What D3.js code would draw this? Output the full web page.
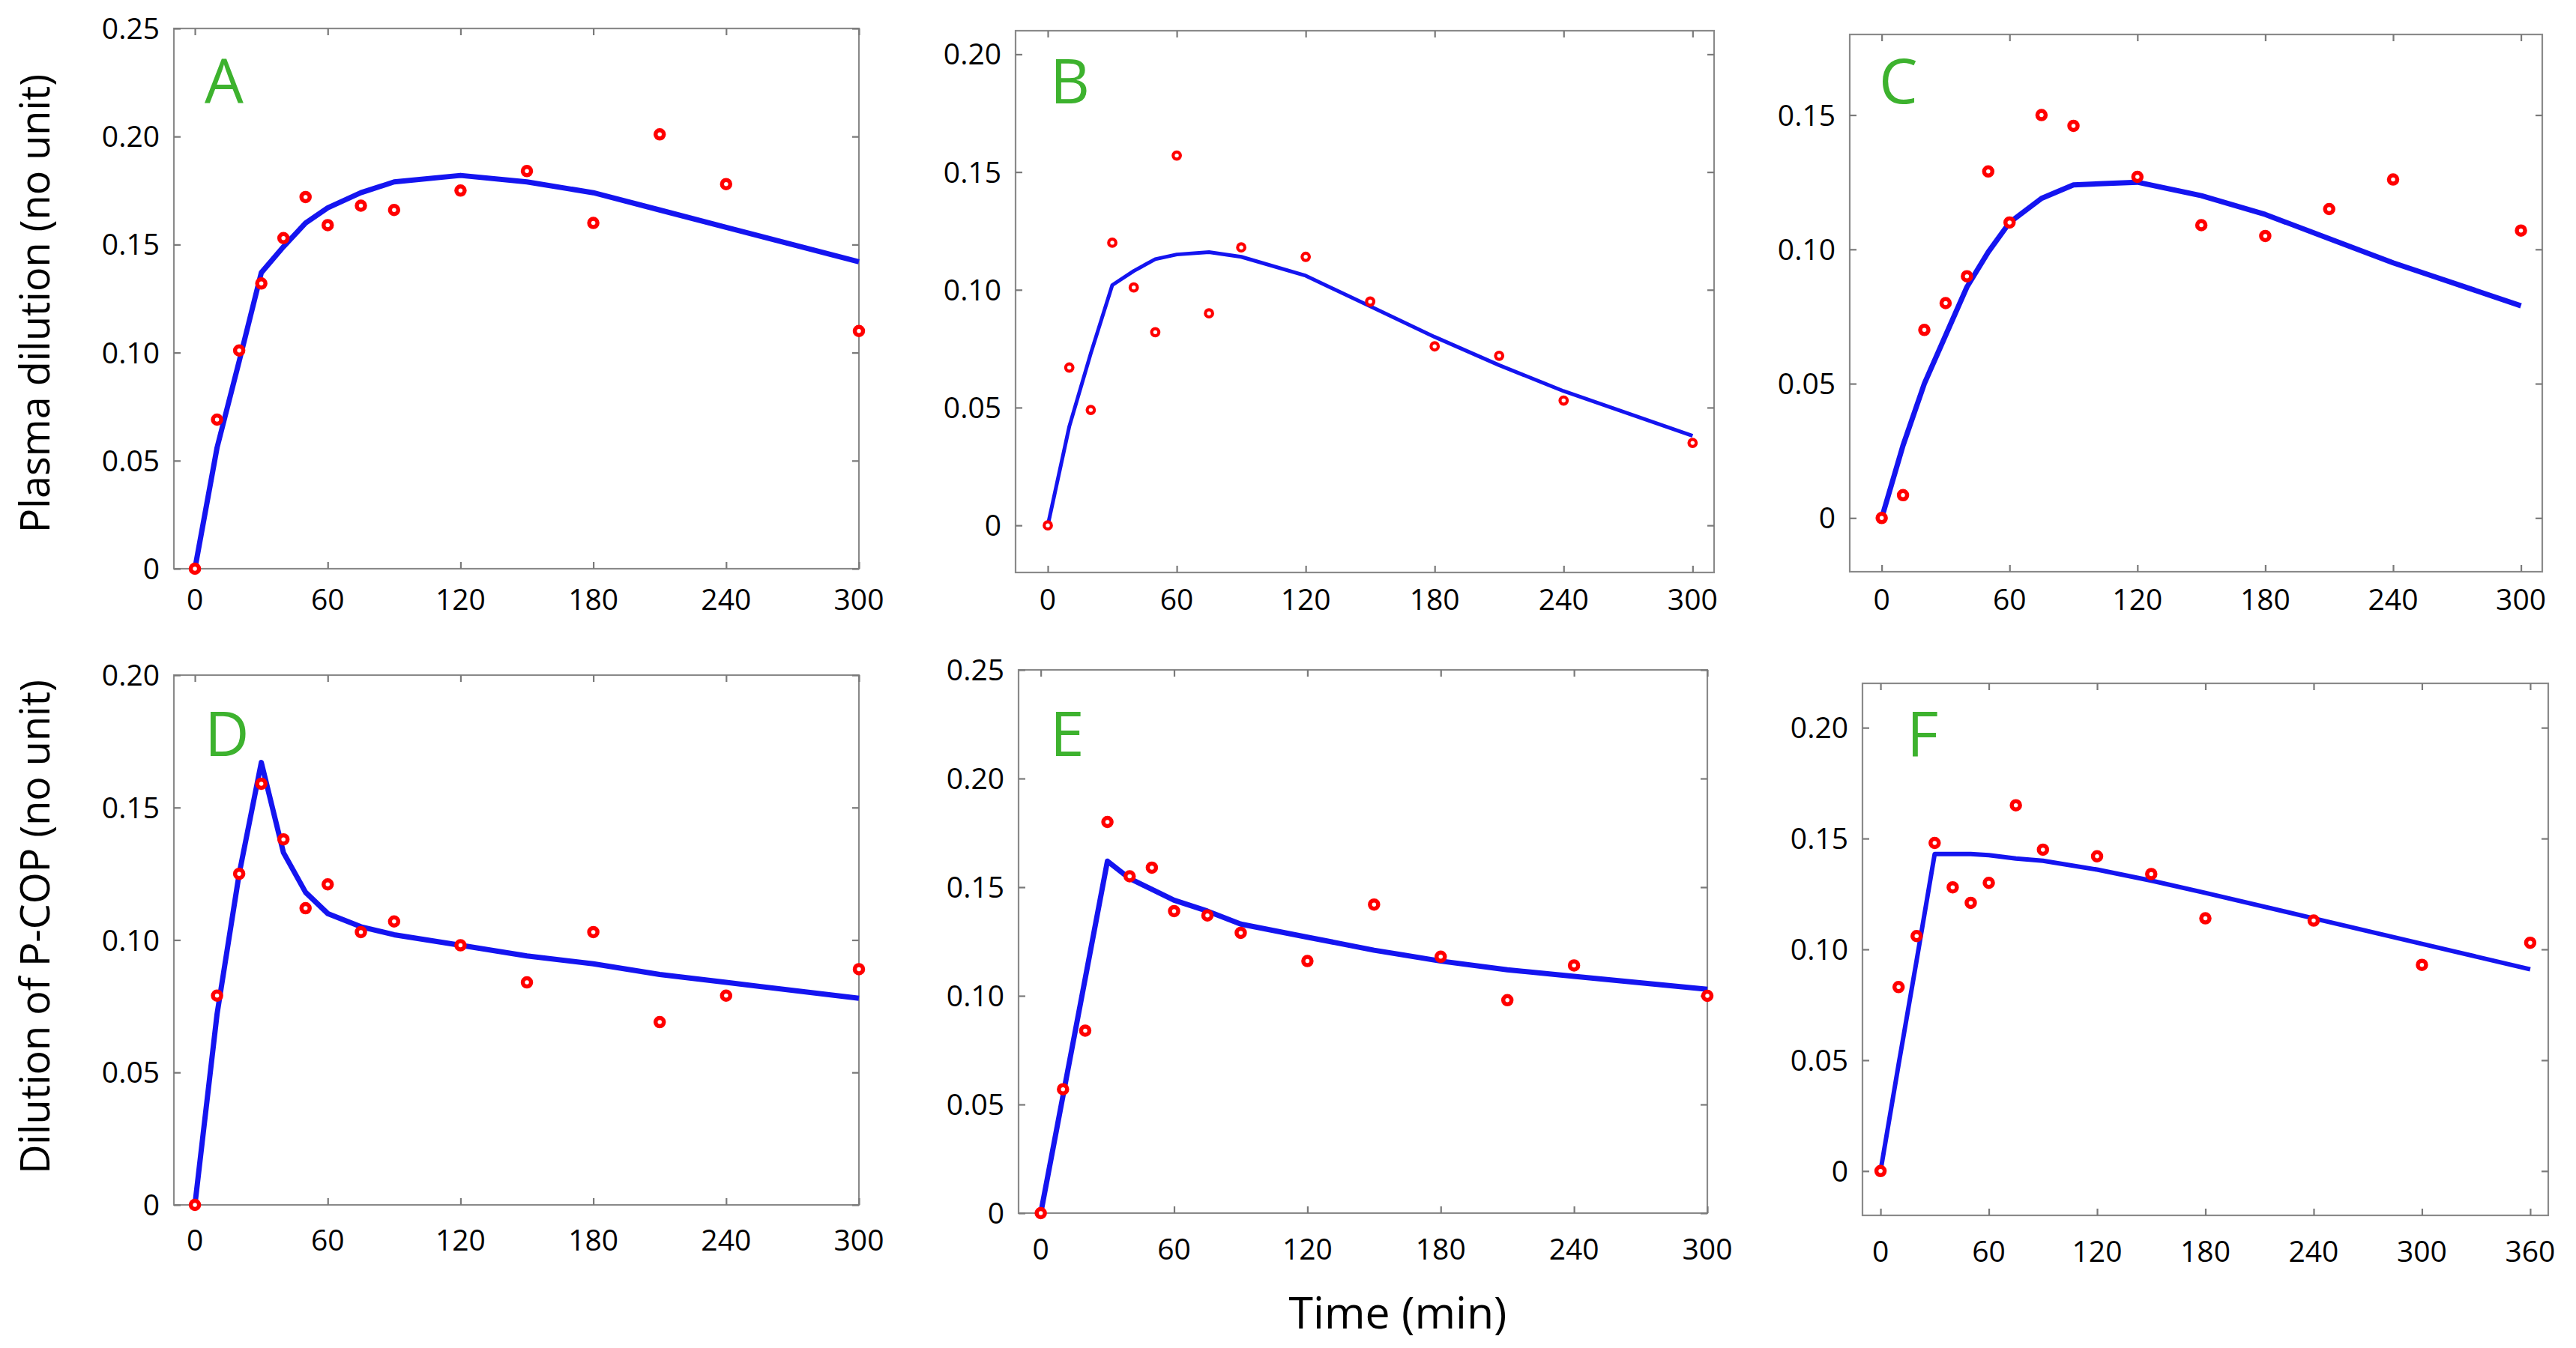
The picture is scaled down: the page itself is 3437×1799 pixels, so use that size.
<!DOCTYPE html>
<html><head><meta charset="utf-8">
<script src="https://cdn.jsdelivr.net/npm/d3@7"></script>
<style>
html,body{margin:0;padding:0;background:#fff;}
svg{display:block;}
text{font-family:"Open Sans","Noto Sans",sans-serif;}
</style></head>
<body>
<svg id="chart" width="3437" height="1799"></svg>
<script>
// ---------- data ----------
const timesStd = [0,10,20,30,40,50,60,75,90,120,150,180,210,240,300];
const timesF   = [0,10,20,30,40,50,60,75,90,120,150,180,240,300,360];

const obsA = [0,0.069,0.101,0.132,0.153,0.172,0.159,0.168,0.166,0.175,0.184,0.160,0.201,0.178,0.110];
const fitA = [0,0.056,0.096,0.137,0.149,0.160,0.167,0.174,0.179,0.182,0.179,0.174,0.166,0.158,0.142];

const obsB = [0,0.067,0.049,0.120,0.101,0.082,0.157,0.090,0.118,0.114,0.095,0.076,0.072,0.053,0.035];
const fitB = [0,0.042,0.073,0.102,0.108,0.113,0.115,0.116,0.114,0.106,0.093,0.080,0.068,0.057,0.038];

const obsC = [0,0.0085,0.070,0.080,0.090,0.129,0.110,0.150,0.146,0.127,0.109,0.105,0.115,0.126,0.107];
const fitC = [0,0.027,0.050,0.068,0.086,0.099,0.110,0.119,0.124,0.125,0.120,0.113,0.104,0.095,0.079];

const obsD = [0,0.079,0.125,0.159,0.138,0.112,0.121,0.103,0.107,0.098,0.084,0.103,0.069,0.079,0.089];
const fitD = [0,0.072,0.125,0.167,0.133,0.118,0.110,0.105,0.102,0.098,0.094,0.091,0.087,0.084,0.078];

const obsE = [0,0.057,0.084,0.180,0.155,0.159,0.139,0.137,0.129,0.116,0.142,0.118,0.098,0.114,0.100];
const fitE = [0,0.054,0.108,0.162,0.154,0.149,0.144,0.139,0.133,0.127,0.121,0.116,0.112,0.109,0.103];

const obsF = [0,0.083,0.106,0.148,0.128,0.121,0.130,0.165,0.145,0.142,0.134,0.114,0.113,0.093,0.103];
const fitF = [0,0.048,0.095,0.143,0.143,0.143,0.1425,0.141,0.140,0.136,0.131,0.1255,0.114,0.1025,0.091];

const yTicks25 = [0,0.05,0.10,0.15,0.20,0.25];
const yTicks20 = [0,0.05,0.10,0.15,0.20];
const yTicks15 = [0,0.05,0.10,0.15];
const xTicks300 = [0,60,120,180,240,300];
const xTicks360 = [0,60,120,180,240,300,360];

const panelLetters = ["A","B","C","D","E","F"];
const yTitles = ["Plasma dilution (no unit)","Dilution of P-COP (no unit)"];
const xTitle = "Time (min)";

// ---------- layout ----------
const panels = [
  {L:panelLetters[0], t:timesStd, obs:obsA, fit:fitA, box:[232,38,1146,759],   xd:[-9.5,300], yd:[0,0.25],     yt:yTicks25, xt:xTicks300, lw:7, mr:5.5, mw:5.5, lab:[273,138],  xlY:814},
  {L:panelLetters[1], t:timesStd, obs:obsB, fit:fitB, box:[1355,41,2287,764],  xd:[-15,310],  yd:[-0.02,0.21], yt:yTicks20, xt:xTicks300, lw:5, mr:4.8, mw:4.2, lab:[1401,138], xlY:814},
  {L:panelLetters[2], t:timesStd, obs:obsC, fit:fitC, box:[2468,46,3392,763],  xd:[-15,310],  yd:[-0.02,0.18], yt:yTicks15, xt:xTicks300, lw:7, mr:5.5, mw:5.5, lab:[2507,138], xlY:814},
  {L:panelLetters[3], t:timesStd, obs:obsD, fit:fitD, box:[232,901,1146,1608], xd:[-9.5,300], yd:[0,0.20],     yt:yTicks20, xt:xTicks300, lw:7, mr:5.5, mw:5.5, lab:[273,1009], xlY:1669},
  {L:panelLetters[4], t:timesStd, obs:obsE, fit:fitE, box:[1359,894,2278,1619],xd:[-10,300],  yd:[0,0.25],     yt:yTicks25, xt:xTicks300, lw:7, mr:5.5, mw:5.5, lab:[1401,1009], xlY:1681},
  {L:panelLetters[5], t:timesF,   obs:obsF, fit:fitF, box:[2485,912,3400,1622],xd:[-10,370],  yd:[-0.02,0.22], yt:yTicks20, xt:xTicks360, lw:6, mr:5.5, mw:5.5, lab:[2544,1009], xlY:1684}
];

const svg = d3.select("#chart");
const fmt = v => v === 0 ? "0" : d3.format(".2f")(v);
const tickLen = 9;

panels.forEach(p => {
  const [l,t,r,b] = p.box;
  const x = d3.scaleLinear().domain(p.xd).range([l,r]);
  const y = d3.scaleLinear().domain(p.yd).range([b,t]);
  const g = svg.append("g");

  // box
  g.append("rect").attr("x",l).attr("y",t).attr("width",r-l).attr("height",b-t)
    .attr("fill","none").attr("stroke","#8a8a8a").attr("stroke-width",2.2);

  // axes (ticks inward on all four sides)
  const axB = d3.axisBottom(x).tickValues(p.xt).tickSize(-tickLen).tickFormat(()=>"");
  const axT = d3.axisTop(x).tickValues(p.xt).tickSize(-tickLen).tickFormat(()=>"");
  const axL = d3.axisLeft(y).tickValues(p.yt).tickSize(-tickLen).tickFormat(()=>"");
  const axR = d3.axisRight(y).tickValues(p.yt).tickSize(-tickLen).tickFormat(()=>"");
  [[axB,`translate(0,${b})`],[axT,`translate(0,${t})`],[axL,`translate(${l},0)`],[axR,`translate(${r},0)`]].forEach(([ax,tr])=>{
    const a = g.append("g").attr("transform",tr).call(ax);
    a.select(".domain").remove();
    a.selectAll(".tick line").attr("stroke","#7a7a7a").attr("stroke-width",2.2);
  });

  // tick labels
  g.selectAll(".xl").data(p.xt).enter().append("text")
    .attr("x",d=>x(d)).attr("y",p.xlY).attr("text-anchor","middle")
    .attr("font-size",39).attr("fill","#000").text(d=>d);
  g.selectAll(".yl").data(p.yt).enter().append("text")
    .attr("x",l-19).attr("y",d=>y(d)+14).attr("text-anchor","end")
    .attr("font-size",39).attr("fill","#000").text(fmt);

  // model line
  const line = d3.line().x((d,i)=>x(p.t[i])).y(d=>y(d));
  g.append("path").datum(p.fit).attr("d",line).attr("fill","none")
    .attr("stroke","#1414f0").attr("stroke-width",p.lw).attr("stroke-linejoin","round");

  // observed points
  g.selectAll(".pt").data(p.obs).enter().append("circle")
    .attr("cx",(d,i)=>x(p.t[i])).attr("cy",d=>y(d)).attr("r",p.mr)
    .attr("fill","#fff").attr("stroke","#ff0000").attr("stroke-width",p.mw);

  // panel letter
  g.append("text").attr("x",p.lab[0]).attr("y",p.lab[1])
    .attr("font-size",82).attr("fill","#3db22e").text(p.L);
});

// axis titles
svg.append("text").attr("transform","translate(66,405) rotate(-90)")
  .attr("text-anchor","middle").attr("font-size",54).attr("fill","#000").text(yTitles[0]);
svg.append("text").attr("transform","translate(66,1237) rotate(-90)")
  .attr("text-anchor","middle").attr("font-size",54).attr("fill","#000").text(yTitles[1]);
svg.append("text").attr("x",1865).attr("y",1773).attr("text-anchor","middle")
  .attr("font-size",59).attr("fill","#000").text(xTitle);
</script>
</body></html>
